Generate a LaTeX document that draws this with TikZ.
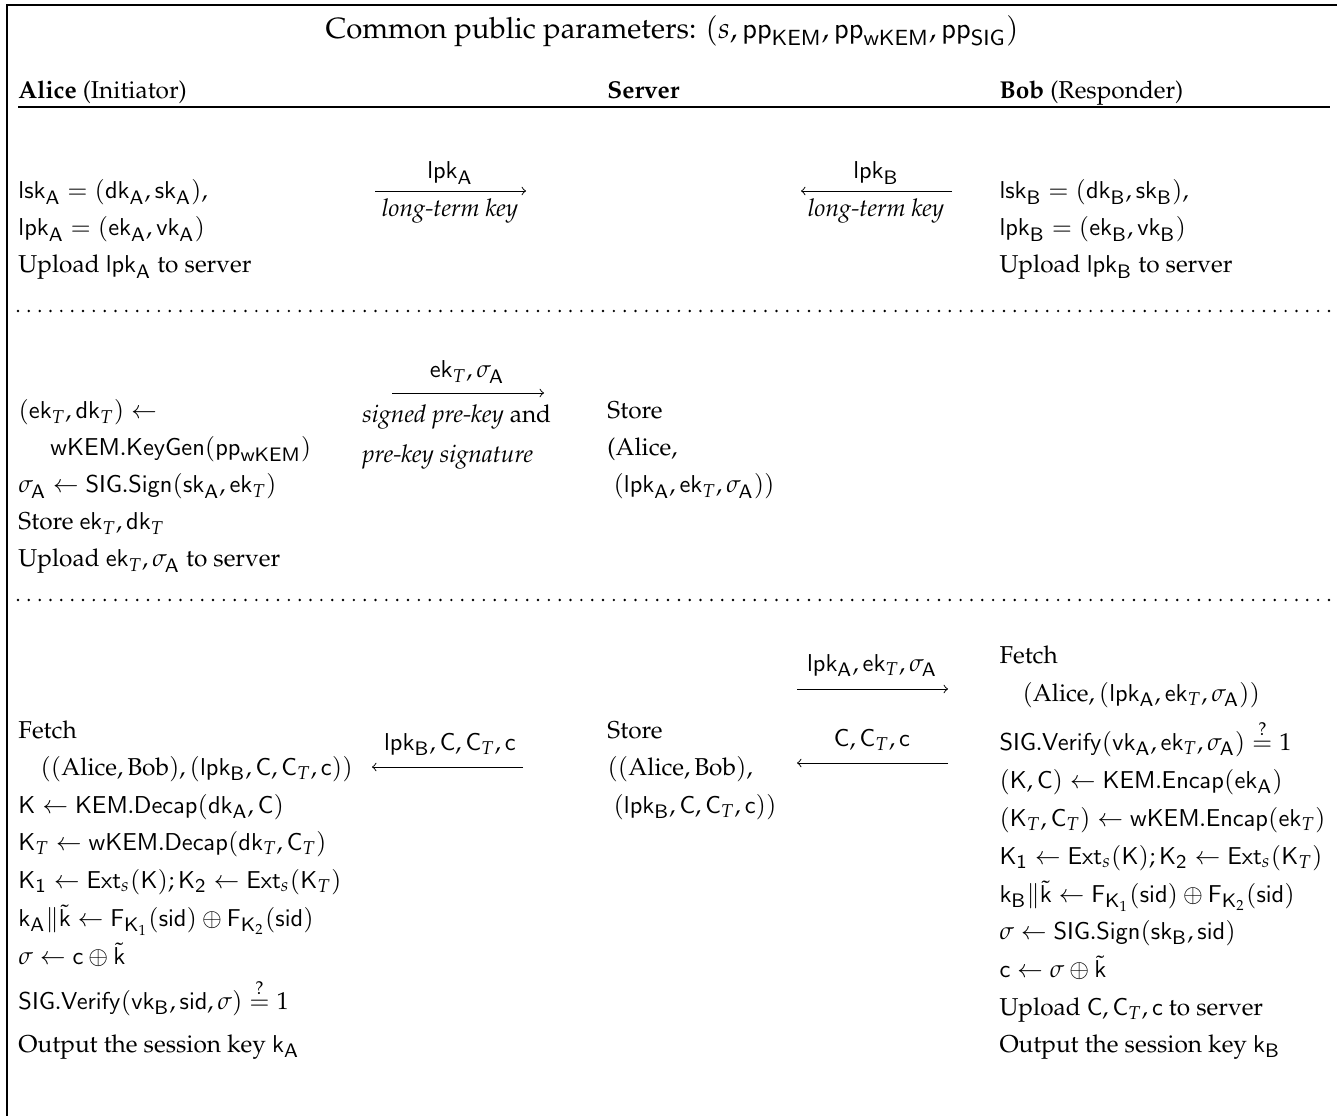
\documentclass[tikz,border=0pt]{standalone}
\usepackage[T1]{fontenc}
\usepackage{mathpazo}
\usepackage{amsmath}
\newcommand{\sv}[2]{\mathsf{#1}_{\mathsf{#2}}}
\newcommand{\kt}{\tilde{\mathsf{k}}}
\newcommand{\qeq}{\stackrel{?}{=}}
\begin{document}
\begin{tikzpicture}[x=0.4098pt,y=-0.4098pt,
  txt/.style={anchor=base west, inner sep=0pt, font=\fontsize{10}{12}\selectfont},
  lbl/.style={anchor=base, inner sep=0pt, font=\fontsize{10}{12}\selectfont},
  hdr/.style={anchor=base, inner sep=0pt, font=\fontsize{12}{14}\selectfont},
  msg/.style={-to, line width=0.4pt},
  rule/.style={line width=0.5pt},
  dotsep/.style={line width=1.1pt, line cap=round, dash pattern=on 0pt off 4.44pt}]
\useasboundingbox (0,0) rectangle (1337,1116);

% frame and header
\draw[rule] (7,1116) -- (7,5) -- (1337,5);
\node[hdr] (title) at (672,39) {Common public parameters: $(s, \sv{pp}{KEM}, \sv{pp}{wKEM}, \sv{pp}{SIG})$};
\node[txt] (alice) at (18,99) {\textbf{Alice} (Initiator)};
\node[txt] (server) at (607,99) {\textbf{Server}};
\node[txt] (bob) at (999,99) {\textbf{Bob} (Responder)};
\draw[rule] (18,107) -- (1330,107);

% phase 1: long-term keys
\node[txt] (a11) at (18,199) {$\sv{lsk}{A} = (\sv{dk}{A}, \sv{sk}{A})$,};
\node[txt] (a12) at (18,236) {$\sv{lpk}{A} = (\sv{ek}{A}, \sv{vk}{A})$};
\node[txt] (a13) at (18,273) {Upload $\sv{lpk}{A}$ to server};
\coordinate (m1s) at (375,191);
\coordinate (m1e) at (526,191);
\draw[msg] (m1s) -- (m1e);
\node[lbl] (m1t) at (450,179) {$\sv{lpk}{A}$};
\node[lbl] (m1b) at (450,217) {\emph{long-term key}};
\coordinate (m2s) at (952,191);
\coordinate (m2e) at (801,191);
\draw[msg] (m2s) -- (m2e);
\node[lbl] (m2t) at (876,179) {$\sv{lpk}{B}$};
\node[lbl] (m2b) at (876,217) {\emph{long-term key}};
\node[txt] (b11) at (999,199) {$\sv{lsk}{B} = (\sv{dk}{B}, \sv{sk}{B})$,};
\node[txt] (b12) at (999,236) {$\sv{lpk}{B} = (\sv{ek}{B}, \sv{vk}{B})$};
\node[txt] (b13) at (999,273) {Upload $\sv{lpk}{B}$ to server};

\draw[dotsep] (18,311) -- (1330,311);

% phase 2: signed pre-key
\node[txt] (a21) at (18,419) {$(\mathsf{ek}_T, \mathsf{dk}_T) \gets$};
\node[txt] (a22) at (50,456) {$\mathsf{wKEM.KeyGen}(\sv{pp}{wKEM})$};
\node[txt] (a23) at (18,493) {$\sigma_{\mathsf{A}} \gets \mathsf{SIG.Sign}(\sv{sk}{A}, \mathsf{ek}_T)$};
\node[txt] (a24) at (18,530) {Store $\mathsf{ek}_T, \mathsf{dk}_T$};
\node[txt] (a25) at (18,567) {Upload $\mathsf{ek}_T, \sigma_{\mathsf{A}}$ to server};
\coordinate (m3s) at (392,393);
\coordinate (m3e) at (544,393);
\draw[msg] (m3s) -- (m3e);
\node[lbl] (m3t) at (467,378) {$\mathsf{ek}_T, \sigma_{\mathsf{A}}$};
\node[txt] (m3b1) at (362,423) {\emph{signed pre-key} and};
\node[txt] (m3b2) at (362,463) {\emph{pre-key signature}};
\node[txt] (s21) at (607,419) {Store};
\node[txt] (s22) at (607,456) {(Alice,};
\node[txt] (s23) at (613,493) {$(\sv{lpk}{A}, \mathsf{ek}_T, \sigma_{\mathsf{A}}))$};

\draw[dotsep] (18,600) -- (1330,600);

% phase 3: session key
\node[txt] (a31) at (18,738) {Fetch};
\node[txt] (a32) at (40,775) {$((\text{Alice}, \text{Bob}), (\sv{lpk}{B}, \mathsf{C}, \mathsf{C}_T, \mathsf{c}))$};
\node[txt] (a33) at (18,813) {$\mathsf{K} \gets \mathsf{KEM.Decap}(\sv{dk}{A}, \mathsf{C})$};
\node[txt] (a34) at (18,850) {$\mathsf{K}_T \gets \mathsf{wKEM.Decap}(\mathsf{dk}_T, \mathsf{C}_T)$};
\node[txt] (a35) at (18,888) {$\mathsf{K_1} \gets \mathsf{Ext}_s(\mathsf{K}); \mathsf{K_2} \gets \mathsf{Ext}_s(\mathsf{K}_T)$};
\node[txt] (a36) at (18,926) {$\sv{k}{A} \| \kt \gets \mathsf{F}_{\mathsf{K}_1}(\mathsf{sid}) \oplus \mathsf{F}_{\mathsf{K}_2}(\mathsf{sid})$};
\node[txt] (a37) at (18,964) {$\sigma \gets \mathsf{c} \oplus \kt$};
\node[txt] (a38) at (18,1009) {$\mathsf{SIG.Verify}(\sv{vk}{B}, \mathsf{sid}, \sigma) \qeq 1$};
\node[txt] (a39) at (18,1052) {Output the session key $\sv{k}{A}$};

\coordinate (m4s) at (523,767);
\coordinate (m4e) at (372,767);
\draw[msg] (m4s) -- (m4e);
\node[lbl] (m4t) at (450,750) {$\sv{lpk}{B}, \mathsf{C}, \mathsf{C}_T, \mathsf{c}$};

\node[txt] (s31) at (607,738) {Store};
\node[txt] (s32) at (607,775) {$((\text{Alice}, \text{Bob}),$};
\node[txt] (s33) at (613,813) {$(\sv{lpk}{B}, \mathsf{C}, \mathsf{C}_T, \mathsf{c}))$};

\coordinate (m5s) at (797,689);
\coordinate (m5e) at (948,689);
\draw[msg] (m5s) -- (m5e);
\node[lbl] (m5t) at (872,671) {$\sv{lpk}{A}, \mathsf{ek}_T, \sigma_{\mathsf{A}}$};
\coordinate (m6s) at (948,763);
\coordinate (m6e) at (797,763);
\draw[msg] (m6s) -- (m6e);
\node[lbl] (m6t) at (872,746) {$\mathsf{C}, \mathsf{C}_T, \mathsf{c}$};

\node[txt] (b31) at (999,663) {Fetch};
\node[txt] (b32) at (1022,701) {$(\text{Alice}, (\sv{lpk}{A}, \mathsf{ek}_T, \sigma_{\mathsf{A}}))$};
\node[txt] (b33) at (999,750) {$\mathsf{SIG.Verify}(\sv{vk}{A}, \mathsf{ek}_T, \sigma_{\mathsf{A}}) \qeq 1$};
\node[txt] (b34) at (999,788) {$(\mathsf{K}, \mathsf{C}) \gets \mathsf{KEM.Encap}(\sv{ek}{A})$};
\node[txt] (b35) at (999,826) {$(\mathsf{K}_T, \mathsf{C}_T) \gets \mathsf{wKEM.Encap}(\mathsf{ek}_T)$};
\node[txt] (b36) at (999,864) {$\mathsf{K_1} \gets \mathsf{Ext}_s(\mathsf{K}); \mathsf{K_2} \gets \mathsf{Ext}_s(\mathsf{K}_T)$};
\node[txt] (b37) at (999,902) {$\sv{k}{B} \| \kt \gets \mathsf{F}_{\mathsf{K}_1}(\mathsf{sid}) \oplus \mathsf{F}_{\mathsf{K}_2}(\mathsf{sid})$};
\node[txt] (b38) at (999,939) {$\sigma \gets \mathsf{SIG.Sign}(\sv{sk}{B}, \mathsf{sid})$};
\node[txt] (b39) at (999,977) {$\mathsf{c} \gets \sigma \oplus \kt$};
\node[txt] (b310) at (999,1015) {Upload $\mathsf{C}, \mathsf{C}_T, \mathsf{c}$ to server};
\node[txt] (b311) at (999,1052) {Output the session key $\sv{k}{B}$};
\end{tikzpicture}
\end{document}
